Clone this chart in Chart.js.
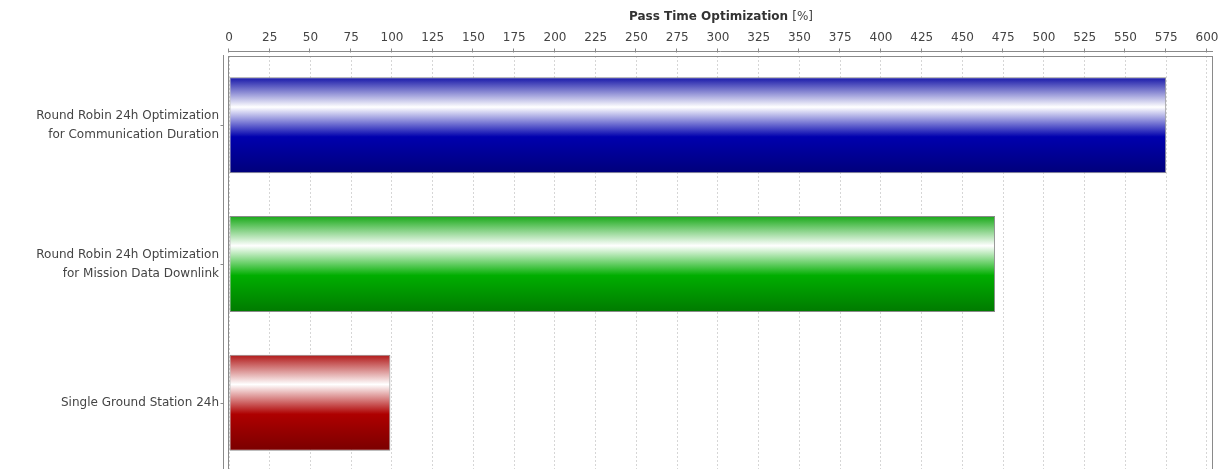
<!DOCTYPE html>
<html>
<head>
<meta charset="utf-8">
<script src="https://cdn.jsdelivr.net/npm/chart.js@4.4.1/dist/chart.umd.min.js"></script>
<style>
  html, body { margin: 0; padding: 0; background: #fff; overflow: hidden; }
  #c { display: block; }
</style>
</head>
<body>
<canvas id="c" width="1225" height="480" style="width:1225px;height:480px"></canvas>
<script>
// Scenarios (multi-line category labels) and their pass time gain in percent
const categories = [
  ['Round Robin 24h Optimization', 'for Communication Duration'],
  ['Round Robin 24h Optimization', 'for Mission Data Downlink'],
  ['Single Ground Station 24h']
];
const passTimeGain = [575, 470, 99];

// Value axis ticks and range
const xTickValues = [0, 25, 50, 75, 100, 125, 150, 175, 200, 225, 250, 275, 300,
                     325, 350, 375, 400, 425, 450, 475, 500, 525, 550, 575, 600];
const axisMin = 0;
const axisMax = 603.7;

const axisTitle = 'Pass Time Optimization';
const axisUnit = '[%]';

// Shaded "tube" look: edge tone -> white highlight -> base -> dark bottom
const palette = [
  { top: '#1616a8', base: '#0000ae', bottom: '#00007a' },
  { top: '#16a816', base: '#00ae00', bottom: '#007a00' },
  { top: '#b01616', base: '#ae0000', bottom: '#7a0000' }
];

const FONT = "'DejaVu Sans', sans-serif";
const BAR_PCT = 0.692;

function barFill(ctx) {
  const chart = ctx.chart;
  const pal = palette[ctx.dataIndex % palette.length];
  const ys = chart.scales.y;
  if (!chart.chartArea || !ys || ctx.dataIndex === undefined) return pal.base;
  const c = ys.getPixelForValue(ctx.dataIndex);
  const half = ys.height / categories.length * BAR_PCT / 2;
  const g = chart.ctx.createLinearGradient(0, c - half, 0, c + half);
  g.addColorStop(0, pal.top);
  g.addColorStop(0.31, '#ffffff');
  g.addColorStop(0.62, pal.base);
  g.addColorStop(1, pal.bottom);
  return g;
}

// Keep the plot area fixed: no extra room reserved for overhanging labels
function noLabelOverhang(scale) {
  scale.paddingLeft = 0;
  scale.paddingRight = 0;
  scale.paddingTop = 0;
  scale.paddingBottom = 0;
}

// Plot frame, detached axis lines with tick marks, and the axis title
const framePlugin = {
  id: 'frame',
  afterDraw(chart) {
    const { ctx, chartArea: a, scales: { x, y } } = chart;
    ctx.save();
    ctx.strokeStyle = '#8a8a8a';
    ctx.lineWidth = 1;
    ctx.strokeRect(a.left - 0.5, a.top + 0.5, a.right - a.left, a.bottom - a.top);

    ctx.beginPath();
    const ay = a.top - 4.5;
    ctx.moveTo(a.left - 1, ay);
    ctx.lineTo(a.right, ay);
    xTickValues.forEach(v => {
      const px = Math.round(x.getPixelForValue(v)) - 0.5;
      ctx.moveTo(px, ay - 3);
      ctx.lineTo(px, ay + 1);
    });
    const ax = a.left - 5.5;
    ctx.moveTo(ax, a.top - 1);
    ctx.lineTo(ax, a.bottom);
    categories.forEach((_, i) => {
      const py = Math.round(y.getPixelForValue(i)) + 0.5;
      ctx.moveTo(ax - 3, py);
      ctx.lineTo(ax, py);
    });
    ctx.stroke();

    // title: bold name followed by regular unit
    const boldFont = 'bold 12px ' + FONT;
    const regFont = '12px ' + FONT;
    ctx.font = boldFont;
    const w1 = ctx.measureText(axisTitle + ' ').width;
    ctx.font = regFont;
    const w2 = ctx.measureText(axisUnit).width;
    const cx = (a.left + a.right) / 2;
    const tx = cx - (w1 + w2) / 2;
    const ty = 17;
    ctx.textBaseline = 'middle';
    ctx.textAlign = 'left';
    ctx.fillStyle = '#333';
    ctx.font = boldFont;
    ctx.fillText(axisTitle + ' ', tx, ty);
    ctx.font = regFont;
    ctx.fillStyle = '#444';
    ctx.fillText(axisUnit, tx + w1, ty);
    ctx.restore();
  }
};

new Chart(document.getElementById('c'), {
  type: 'bar',
  data: {
    labels: categories,
    datasets: [{
      data: passTimeGain,
      backgroundColor: barFill,
      borderColor: '#8a8a8a',
      borderWidth: 1,
      borderSkipped: false,
      categoryPercentage: 1,
      barPercentage: BAR_PCT
    }]
  },
  options: {
    indexAxis: 'y',
    responsive: false,
    maintainAspectRatio: false,
    devicePixelRatio: 1,
    animation: false,
    layout: { padding: { left: 0, right: 12, top: 0, bottom: 8 } },
    plugins: { legend: { display: false }, tooltip: { enabled: false } },
    scales: {
      x: {
        position: 'top',
        min: axisMin,
        max: axisMax,
        afterBuildTicks(scale) { scale.ticks = xTickValues.map(v => ({ value: v })); },
        afterFit(scale) { scale.height = 56; noLabelOverhang(scale); },
        grid: { color: '#d6d6d6', lineWidth: 1, drawTicks: false },
        border: { display: false, dash: [2, 2] },
        ticks: {
          autoSkip: false, maxRotation: 0, padding: 11,
          color: '#444', font: { family: FONT, size: 12 }
        }
      },
      y: {
        afterFit(scale) { scale.width = 229; noLabelOverhang(scale); },
        grid: { display: false, drawTicks: false },
        border: { display: false },
        ticks: {
          padding: 10, color: '#444',
          font: { family: FONT, size: 12, lineHeight: 1.6 }
        }
      }
    }
  },
  plugins: [framePlugin]
});
</script>
</body>
</html>
